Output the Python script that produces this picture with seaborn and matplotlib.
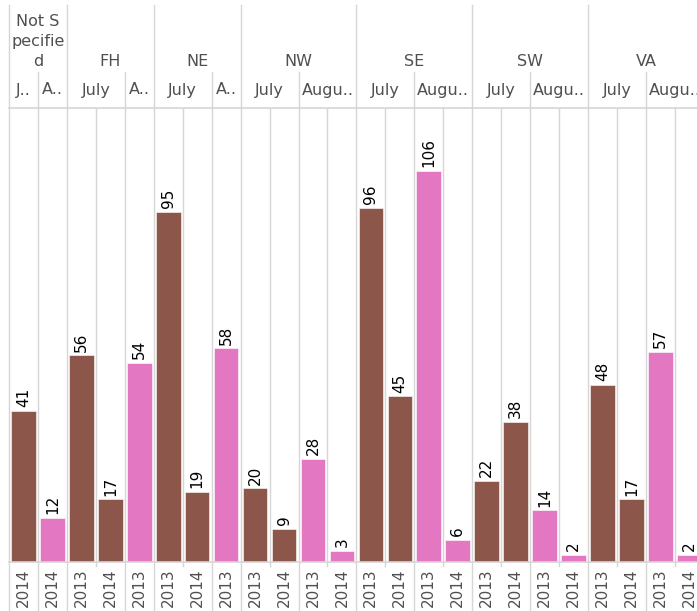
import matplotlib
matplotlib.use('Agg')
import matplotlib.pyplot as plt
import pandas as pd
import seaborn as sns

# data: one column per region / month / year
regions = ['Not Specified'] * 2 + ['FH'] * 3 + ['NE'] * 3 + ['NW'] * 4 + ['SE'] * 4 + ['SW'] * 4 + ['VA'] * 4
months = ['July', 'August',
          'July', 'July', 'August',
          'July', 'July', 'August',
          'July', 'July', 'August', 'August',
          'July', 'July', 'August', 'August',
          'July', 'July', 'August', 'August',
          'July', 'July', 'August', 'August']
years = ['2014', '2014',
         '2013', '2014', '2013',
         '2013', '2014', '2013',
         '2013', '2014', '2013', '2014',
         '2013', '2014', '2013', '2014',
         '2013', '2014', '2013', '2014',
         '2013', '2014', '2013', '2014']
counts = [41, 12, 56, 17, 54, 95, 19, 58, 20, 9, 28, 3,
          96, 45, 106, 6, 22, 38, 14, 2, 48, 17, 57, 2]

# header text as shown (wrapped / truncated)
region_text = {'Not Specified': ['Not S', 'pecifie', 'd'], 'FH': ['FH'], 'NE': ['NE'],
               'NW': ['NW'], 'SE': ['SE'], 'SW': ['SW'], 'VA': ['VA']}
month_text = {('Not Specified', 'July'): 'J..', ('Not Specified', 'August'): 'A..',
              ('FH', 'July'): 'July', ('FH', 'August'): 'A..',
              ('NE', 'July'): 'July', ('NE', 'August'): 'A..'}

colors = {'July': '#8c564b', 'August': '#e377c2'}
grid_c = '#d6d6d6'
text_c = '#505050'

df = pd.DataFrame({'region': regions, 'month': months, 'year': years, 'count': counts})
df['col'] = [f'{r}|{m}|{y}' for r, m, y in zip(regions, months, years)]

W, H = 697, 611
fig = plt.figure(figsize=(W / 100, H / 100), dpi=100)
left, colw = 9, 28.95
base_y, top_y = 562, 108
ax = fig.add_axes([left / W, (H - base_y) / H, 24 * colw / W, (base_y - top_y) / H])

sns.barplot(data=df, x='col', y='count', hue='month', order=list(df['col']),
            palette=colors, saturation=1, dodge=False, width=0.85, legend=False,
            edgecolor='white', linewidth=0.4, ax=ax)

ax.set_ylim(0, (base_y - top_y) / 3.689)
ax.set_xlim(-0.5, 23.5)
for s in ax.spines.values():
    s.set_visible(False)
ax.set_yticks([])
ax.set_xticks(range(len(years)))
ax.set_xticklabels(years, rotation=90, color=text_c, fontsize=11)
ax.tick_params(axis='x', length=0, pad=4.5)
ax.set_xlabel('')
ax.set_ylabel('')

for cont in ax.containers:
    ax.bar_label(cont, fmt='%g', rotation=90, padding=2.5, fontsize=11, color='black')

def frac(py):
    return (base_y - py) / (base_y - top_y)

tr = ax.get_xaxis_transform()

# column boundaries
region_b, month_b = [0], []
for i in range(1, len(regions)):
    if regions[i] != regions[i - 1]:
        region_b.append(i)
    elif months[i] != months[i - 1]:
        month_b.append(i)
region_b.append(len(regions))
for i in range(len(regions) + 1):
    if i in region_b:
        y0 = frac(5)
        y1 = frac(H)
    elif i in month_b:
        y0 = frac(72)
        y1 = frac(H)
    else:
        y0 = 1.0
        y1 = frac(566)
    ax.plot([i - 0.5, i - 0.5], [y1, y0], color=grid_c, lw=1, transform=tr, clip_on=False, zorder=0)

ax.plot([-0.5, 23.5], [1, 1], color=grid_c, lw=1.2, transform=tr, clip_on=False)
ax.plot([-0.5, 23.5], [0, 0], color=grid_c, lw=1.2, transform=tr, clip_on=False)

# region header
for j in range(len(region_b) - 1):
    a, b = region_b[j], region_b[j + 1]
    lines = region_text[regions[a]]
    ys = [62 - 20.5 * (len(lines) - 1 - k) for k in range(len(lines))]
    for txt, py in zip(lines, ys):
        ax.text((a + b - 1) / 2, frac(py), txt, transform=tr, ha='center', va='center',
                fontsize=11.5, color=text_c, clip_on=False)

# month header
i = 0
while i < len(regions):
    j = i
    while j < len(regions) and regions[j] == regions[i] and months[j] == months[i]:
        j += 1
    label = month_text.get((regions[i], months[i]), 'July' if months[i] == 'July' else 'Augu..')
    ax.text((i + j - 1) / 2, frac(90), label, transform=tr, ha='center', va='center',
            fontsize=11.5, color=text_c, clip_on=False)
    i = j

fig.savefig('out.png', dpi=100)
